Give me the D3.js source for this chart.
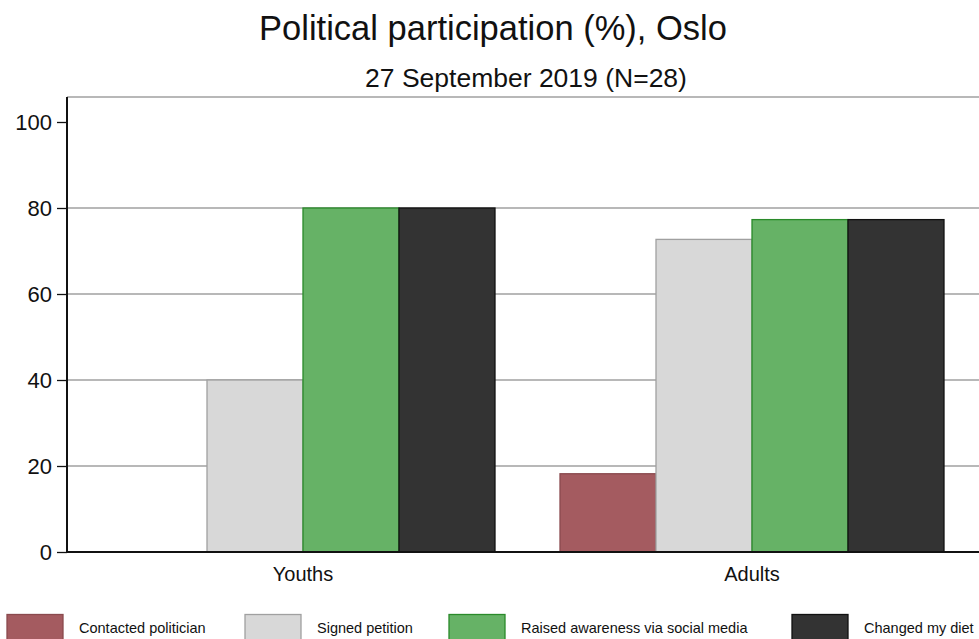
<!DOCTYPE html>
<html>
<head>
<meta charset="utf-8">
<script src="https://cdn.jsdelivr.net/npm/d3@7"></script>
<style>
  body { margin: 0; background: #fff; }
  svg { display: block; font-family: "Liberation Sans", Arial, sans-serif; }
</style>
</head>
<body>
<svg id="chart" width="979" height="639"></svg>
<script>
const groups = ["Youths", "Adults"];
const seriesNames = ["Contacted politician", "Signed petition", "Raised awareness via social media", "Changed my diet"];
const contacted = [0, 18.2];
const petition = [40, 72.7];
const awareness = [80, 77.3];
const diet = [80, 77.3];
const yTicks = [0, 20, 40, 60, 80, 100];

const fills = ["#a45b60", "#d8d8d8", "#66b266", "#333333"];
const strokes = ["#8a4a4e", "#a0a0a0", "#2a8a2a", "#111111"];
const seriesValues = [contacted, petition, awareness, diet];

const svg = d3.select("#chart");
const plot = { left: 67, right: 988, top: 97, bottom: 552 };

const y = d3.scaleLinear().domain([0, 100]).range([552, 122]);
const x0 = d3.scaleBand().domain(groups).range([plot.left, plot.right]).paddingInner(0.1448).paddingOuter(0.098);
const x1 = d3.scaleBand().domain(seriesNames).range([0, x0.bandwidth()]);

// title
svg.append("text").attr("x", 493).attr("y", 40).attr("text-anchor", "middle")
  .attr("font-size", 34.5).attr("fill", "#111").text("Political participation (%), Oslo");
svg.append("text").attr("x", 526).attr("y", 87).attr("text-anchor", "middle")
  .attr("font-size", 26.5).attr("fill", "#111").text("27 September 2019 (N=28)");

// top border
svg.append("line").attr("x1", plot.left).attr("x2", 979).attr("y1", plot.top).attr("y2", plot.top)
  .attr("stroke", "#a0a0a0").attr("stroke-width", 1.3);

// gridlines
svg.append("g").selectAll("line").data(yTicks.filter(d => d > 0 && d < 100)).join("line")
  .attr("x1", plot.left).attr("x2", 979)
  .attr("y1", d => y(d)).attr("y2", d => y(d))
  .attr("stroke", "#a0a0a0").attr("stroke-width", 1.3);

// bars
const g = svg.append("g");
groups.forEach((grp, gi) => {
  seriesNames.forEach((s, si) => {
    const v = seriesValues[si][gi];
    if (v <= 0) return;
    g.append("rect")
      .attr("x", x0(grp) + x1(s))
      .attr("y", y(v))
      .attr("width", x1.bandwidth())
      .attr("height", y(0) - y(v))
      .attr("fill", fills[si])
      .attr("stroke", strokes[si])
      .attr("stroke-width", 1.3);
  });
});

// y axis
const yAxis = d3.axisLeft(y).tickValues(yTicks).tickSize(10).tickPadding(5);
const ya = svg.append("g").attr("transform", `translate(${plot.left},0)`).call(yAxis);
ya.select(".domain").attr("stroke", "#111").attr("stroke-width", 2).attr("d", `M0,${plot.top}V${plot.bottom}`);
ya.selectAll(".tick line").attr("stroke", "#111").attr("stroke-width", 1.3);
ya.selectAll(".tick text").attr("font-size", 22).attr("fill", "#111").attr("font-family", "Liberation Sans, Arial, sans-serif");

// x axis line
svg.append("line").attr("x1", plot.left - 1).attr("x2", 979).attr("y1", y(0)).attr("y2", y(0))
  .attr("stroke", "#111").attr("stroke-width", 2);

// category labels
svg.append("g").selectAll("text").data(groups).join("text")
  .attr("x", d => x0(d) + x0.bandwidth() / 2)
  .attr("y", 581)
  .attr("text-anchor", "middle")
  .attr("font-size", 20).attr("fill", "#111").text(d => d);

// legend
const legendX = [7, 245, 449, 792];
const lg = svg.append("g");
seriesNames.forEach((s, i) => {
  lg.append("rect").attr("x", legendX[i]).attr("y", 614.5).attr("width", 56).attr("height", 26)
    .attr("fill", fills[i]).attr("stroke", strokes[i]).attr("stroke-width", 1.3);
  lg.append("text").attr("x", legendX[i] + 72).attr("y", 633).attr("font-size", 14.5)
    .attr("fill", "#111").text(s);
});
</script>
</body>
</html>
